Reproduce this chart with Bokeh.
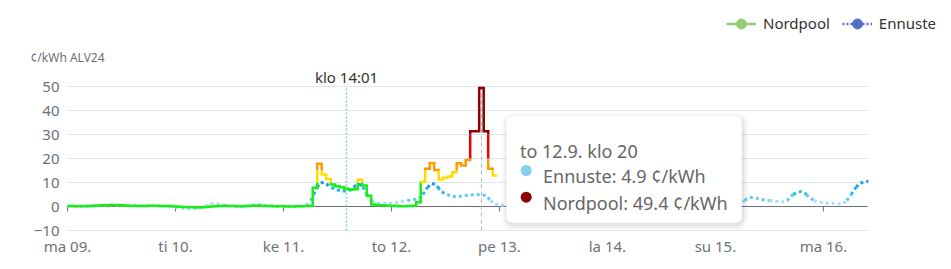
import bisect
from bokeh.plotting import figure
from bokeh.models import (Range1d, FixedTicker, Label, BoxAnnotation, Legend, LegendItem)
from bokeh.embed import file_html
from bokeh.resources import INLINE

FONT = "Noto Sans"

# ---------------- data ----------------
day_labels = ["ma 09.", "ti 10.", "ke 11.", "to 12.", "pe 13.", "la 14.", "su 15.", "ma 16."]
y_ticks = [-10, 0, 10, 20, 30, 40, 50]
unit_label = "¢/kWh ALV24"

# Nordpool hourly price (c/kWh, ALV24), Mon 09 00:00 .. Thu 12 23:00
nordpool_mon = [0.2, 0.2, 0.1, 0.1, 0.1, 0.2, 0.3, 0.4, 0.5, 0.5, 0.6, 0.6,
                0.5, 0.4, 0.3, 0.3, 0.2, 0.2, 0.3, 0.3, 0.3, 0.2, 0.2, 0.1]
nordpool_tue = [0.0, -0.1, -0.2, -0.3, -0.3, -0.4, -0.3, -0.2, 0.0, 0.1, 0.2, 0.3,
                0.2, 0.2, 0.1, 0.1, 0.2, 0.3, 0.4, 0.3, 0.2, 0.2, 0.1, 0.1]
nordpool_wed = [0.1, 0.0, 0.0, 0.1, 0.1, 0.2, 0.3, 7.8, 17.8, 13.3, 11.5, 9.2,
                8.4, 8.0, 7.4, 7.1, 7.2, 11.1, 8.8, 4.5, 0.8, 0.6, 0.5, 0.4]
nordpool_thu = [0.3, 0.2, 0.1, 0.1, 0.2, 0.3, 1.8, 10.2, 15.7, 18.1, 15.2, 11.3,
                12.0, 12.5, 14.3, 18.0, 17.1, 19.4, 31.4, 31.4, 49.4, 31.4, 15.7, 12.9]

# Ennuste (forecast) hourly, Mon 09 00:00 .. Mon 16 10:00
forecast_mon = [0.2, 0.2, 0.1, 0.1, 0.2, 0.2, 0.3, 0.4, 0.5, 0.6, 0.6, 0.5,
                0.5, 0.4, 0.3, 0.3, 0.3, 0.2, 0.3, 0.3, 0.2, 0.2, 0.1, 0.1]
forecast_tue = [-0.3, -0.6, -0.8, -0.9, -0.8, -0.6, -0.2, 0.4, 1.1, 1.2, 0.8, 0.3,
                0.1, 0.0, -0.2, -0.1, 0.2, 0.5, 0.8, 0.8, 0.5, 0.3, 0.1, 0.0]
forecast_wed = [0.0, 0.0, 0.1, 0.1, 0.2, 0.6, 2.5, 6.0, 9.8, 10.0, 8.8, 7.6,
                6.9, 6.5, 6.4, 7.0, 8.7, 9.2, 7.2, 3.6, 1.9, 1.5, 1.4, 1.4]
forecast_thu = [1.4, 1.6, 2.0, 2.4, 2.6, 2.9, 3.2, 5.0, 8.0, 9.6, 9.0, 6.2,
                5.3, 4.5, 4.2, 4.2, 4.5, 4.7, 4.9, 5.0, 4.9, 4.6, 2.5, 1.0]
forecast_fri = [0.6, 0.5, 0.6, 0.8, 1.0, 1.4, 2.2, 3.0, 3.4, 3.2, 2.8, 2.4,
                2.2, 2.0, 2.2, 2.6, 3.2, 3.8, 4.0, 3.6, 3.0, 2.4, 1.8, 1.4]
forecast_sat = [1.2, 1.0, 0.9, 0.9, 1.0, 1.4, 2.0, 2.6, 3.0, 3.2, 3.0, 2.6,
                2.2, 2.0, 2.0, 2.3, 2.8, 3.4, 3.8, 3.6, 3.0, 2.4, 1.8, 1.4]
forecast_sun = [1.2, 1.1, 1.0, 1.0, 1.2, 1.5, 1.8, 3.2, 3.8, 3.5, 3.0, 2.7,
                2.5, 2.3, 2.0, 1.9, 2.6, 4.6, 5.8, 6.2, 5.4, 3.6, 2.4, 1.8]
forecast_mon16 = [1.6, 1.4, 1.4, 1.2, 1.0, 2.0, 4.5, 7.4, 9.5, 10.3, 10.5]

now_hour = 2 * 24 + 14 + 1 / 60.0          # ke 11. klo 14:01
now_label = "klo 14:01"
tip_hour = 3 * 24 + 20                      # to 12.9. klo 20
tip_title = "to 12.9. klo 20"
axis_end = 177.8                            # x axis end (hours from ma 09. 00:00)

# colour bands (value thresholds)
np_thresholds = [10, 15, 20, 30]
np_colors = ["#16ee16", "#ffdd00", "#ff9a00", "#ee0000", "#8b0000"]
fc_thresholds = [2.5, 5, 8]
fc_colors = ["#a3ddf6", "#5fcaf6", "#1fb6f4", "#1a9cf0"]

# ---------------- helpers ----------------
nordpool = nordpool_mon + nordpool_tue + nordpool_wed + nordpool_thu
forecast = (forecast_mon + forecast_tue + forecast_wed + forecast_thu + forecast_fri
            + forecast_sat + forecast_sun + forecast_mon16)


def colored_runs(px, py, thresholds, colors):
    rx, ry, rc = [], [], []
    cur = None
    for k in range(len(px) - 1):
        x0, y0, x1, y1 = px[k], py[k], px[k + 1], py[k + 1]
        cuts = [t for t in thresholds if min(y0, y1) < t < max(y0, y1)]
        cuts.sort(reverse=(y1 < y0))
        pts = [(x0, y0)] + [(x0 + (x1 - x0) * (t - y0) / (y1 - y0), t) for t in cuts] + [(x1, y1)]
        for (xa, ya), (xb, yb) in zip(pts[:-1], pts[1:]):
            b = bisect.bisect_right(thresholds, (ya + yb) / 2.0)
            if b == cur:
                rx[-1].append(xb)
                ry[-1].append(yb)
            else:
                rx.append([xa, xb])
                ry.append([ya, yb])
                rc.append(colors[b])
                cur = b
    return rx, ry, rc


# step path (value of hour h drawn from h-0.5 to h+0.5)
sx, sy = [], []
for h, v in enumerate(nordpool):
    sx += [max(h - 0.5, 0), h + 0.5]
    sy += [v, v]
np_x, np_y, np_c = colored_runs(sx, sy, np_thresholds, np_colors)
fc_x, fc_y, fc_c = colored_runs(list(range(len(forecast))), forecast, fc_thresholds, fc_colors)

# ---------------- figure ----------------
W, H = 951, 269
X0PX, YM10PX = 67, 230            # pixel of x=0 (plot left) / of y=-10 (plot bottom)
PX_PER_H = 800 / axis_end
PX_PER_U = 2.4
x_start = -X0PX / PX_PER_H
x_end = (W - X0PX) / PX_PER_H
y_bottom = -10 - (H - YM10PX) / PX_PER_U
y_top = -10 + YM10PX / PX_PER_U
p = figure(width=W, height=H, x_range=Range1d(x_start, x_end), y_range=Range1d(y_bottom, y_top),
           output_backend="svg", toolbar_location=None,
           min_border_left=0, min_border_right=0, min_border_top=0, min_border_bottom=0)
p.outline_line_color = None
p.background_fill_color = "white"
p.border_fill_color = "white"


def X(px):
    return (px - X0PX) / PX_PER_H


def Y(py):
    return -10 + (YM10PX - py) / PX_PER_U


# axes (drawn at the plot edges through fixed locations)
p.yaxis.fixed_location = 0
p.yaxis.ticker = FixedTicker(ticks=y_ticks)
p.yaxis.axis_line_color = None
p.yaxis.major_tick_line_color = None
p.yaxis.major_tick_out = 0
p.yaxis.major_tick_in = 0
p.yaxis.minor_tick_line_color = None
p.yaxis.major_label_standoff = 8
p.yaxis.major_label_text_font = FONT
p.yaxis.major_label_text_font_size = "15px"
p.yaxis.major_label_text_color = "#6e7079"

day_ticks = [24 * i for i in range(len(day_labels))]
p.xaxis.fixed_location = y_ticks[0]
p.xaxis.ticker = FixedTicker(ticks=day_ticks)
p.xaxis.major_label_overrides = {t: lab for t, lab in zip(day_ticks, day_labels)}
p.xaxis.axis_line_color = None
p.xaxis.major_tick_line_color = None
p.xaxis.major_tick_out = 0
p.xaxis.major_tick_in = 0
p.xaxis.minor_tick_line_color = None
p.xaxis.major_label_standoff = 5
p.xaxis.major_label_text_font = FONT
p.xaxis.major_label_text_font_size = "15px"
p.xaxis.major_label_text_color = "#6e7079"

p.xgrid.grid_line_color = None
p.ygrid.grid_line_color = None

# horizontal grid lines (only across the plotted time span)
p.segment(x0=[0] * len(y_ticks), y0=y_ticks, x1=[axis_end] * len(y_ticks), y1=y_ticks,
          line_color="#e0e6f1", line_width=1)

# zero axis line and day ticks
p.segment(x0=[0], y0=[0], x1=[axis_end], y1=[0], line_color="#6e7079", line_width=1)
p.segment(x0=day_ticks, y0=[0] * len(day_ticks), x1=day_ticks,
          y1=[-5 / PX_PER_U] * len(day_ticks), line_color="#6e7079", line_width=1)

# current time marker
p.segment(x0=[now_hour], y0=[y_ticks[0]], x1=[now_hour], y1=[y_ticks[-1]],
          line_color="#7fc8ea", line_width=1.5, line_dash="2 2")
p.add_layout(Label(x=now_hour, y=Y(76), text=now_label, text_align="center",
                   text_baseline="alphabetic", text_font=FONT, text_font_size="15px",
                   text_color="#333333"))

# axis pointer
p.segment(x0=[tip_hour], y0=[y_ticks[0]], x1=[tip_hour], y1=[y_ticks[-1]],
          line_color="#b4b4b4", line_width=1, line_dash="4 3")

# series
p.multi_line(fc_x, fc_y, line_color=fc_c, line_width=3, line_dash="3 3")
p.multi_line(np_x, np_y, line_color=np_c, line_width=2.5, line_join="miter")

# unit label
p.add_layout(Label(x=X(30), y=Y(56.5), text=unit_label, text_font=FONT,
                   text_font_size="12px", text_color="#6e7079", text_baseline="alphabetic"))

# tooltip box with soft shadow
tl, tr, tt, tb = 506, 741, 116, 222
for k, a in [(6, 0.02), (4, 0.03), (2, 0.05)]:
    p.add_layout(BoxAnnotation(left=X(tl - k + 1), right=X(tr + k + 1), top=Y(tt - k + 2),
                               bottom=Y(tb + k + 2), fill_color="black", fill_alpha=a,
                               line_color=None, border_radius=6 + k))
p.add_layout(BoxAnnotation(left=X(tl), right=X(tr), top=Y(tt), bottom=Y(tb),
                           fill_color="white", fill_alpha=1, line_color="#ffffff",
                           border_radius=5))
p.add_layout(Label(x=X(519.5), y=Y(150), text=tip_title, text_font=FONT,
                   text_font_size="18px", text_color="#666666", text_baseline="alphabetic"))
fc_tip = forecast[tip_hour]
np_tip = nordpool[tip_hour]
p.add_layout(Label(x=X(542.5), y=Y(175.5), text="Ennuste: %.1f ¢/kWh" % fc_tip, text_font=FONT,
                   text_font_size="18px", text_color="#666666", text_baseline="alphabetic"))
p.add_layout(Label(x=X(542.5), y=Y(202), text="Nordpool: %.1f ¢/kWh" % np_tip, text_font=FONT,
                   text_font_size="18px", text_color="#666666", text_baseline="alphabetic"))
p.scatter(x=[X(525.7), X(525.7)], y=[Y(170), Y(196.7)], marker="circle", size=11,
          fill_color=["#87ceeb", np_colors[bisect.bisect_right(np_thresholds, np_tip)]],
          line_color=None, level="overlay")

# legend (renderers whose points lie outside the visible ranges)
l1 = p.line(x=[-1000, -999], y=[-1000, -1000], line_color="#91cc75", line_width=2.5)
c1 = p.scatter(x=[-1000], y=[-1000], marker="circle", size=10, fill_color="#91cc75",
               line_color="#91cc75")
l2 = p.line(x=[-1000, -999], y=[-1000, -1000], line_color="#5470c6", line_width=2.5,
            line_dash="2 2")
c2 = p.scatter(x=[-1000], y=[-1000], marker="circle", size=10, fill_color="#5470c6",
               line_color="#5470c6")
legend = Legend(items=[LegendItem(label="Nordpool", renderers=[l1, c1]),
                       LegendItem(label="Ennuste", renderers=[l2, c2])],
                orientation="horizontal", location=(726, H - 35.5),
                glyph_width=30, glyph_height=25, label_standoff=7, spacing=12,
                padding=0, margin=0, border_line_color=None, background_fill_alpha=0,
                label_text_font=FONT, label_text_font_size="15px", label_text_color="#333333")
p.add_layout(legend)

open("out.html", "w").write(file_html(p, INLINE))
